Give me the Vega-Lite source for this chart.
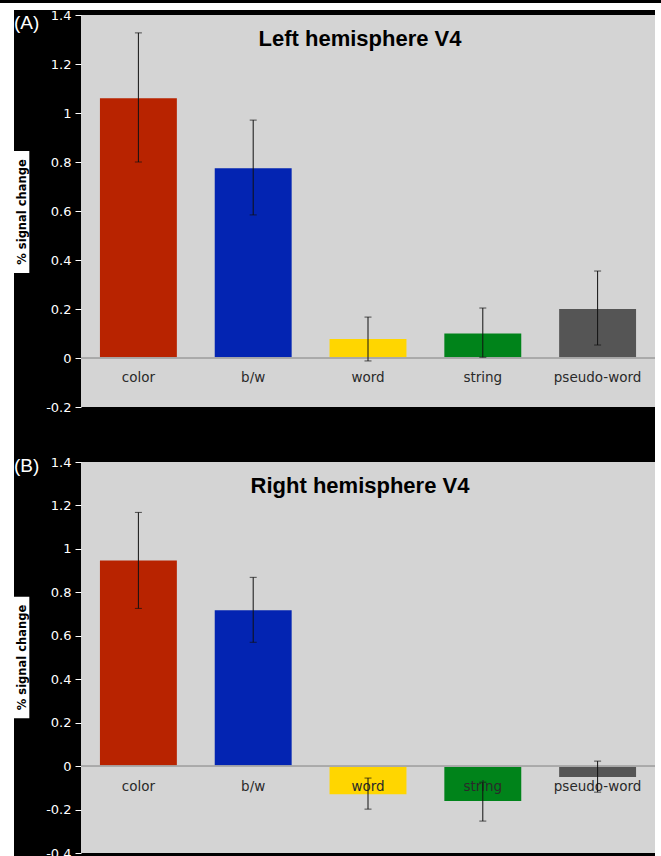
{
  "$schema": "https://vega.github.io/schema/vega-lite/v6.json",
  "background": "black",
  "padding": 0,
  "config": {"view": {"stroke": null}},
  "datasets": {
    "A": [
      {"cond": "color", "value": 1.06, "lo": 0.80, "hi": 1.327},
      {"cond": "b/w", "value": 0.775, "lo": 0.584, "hi": 0.971},
      {"cond": "word", "value": 0.078, "lo": -0.012, "hi": 0.167},
      {"cond": "string", "value": 0.10, "lo": 0.003, "hi": 0.204},
      {"cond": "pseudo-word", "value": 0.20, "lo": 0.053, "hi": 0.355}
    ],
    "B": [
      {"cond": "color", "value": 0.947, "lo": 0.726, "hi": 1.168},
      {"cond": "b/w", "value": 0.717, "lo": 0.570, "hi": 0.869},
      {"cond": "word", "value": -0.129, "lo": -0.198, "hi": -0.055},
      {"cond": "string", "value": -0.161, "lo": -0.253, "hi": -0.074},
      {"cond": "pseudo-word", "value": -0.05, "lo": -0.12, "hi": 0.023}
    ],
    "LA": [{"lab": "% signal change", "panel": "(A)", "lo": 0.347, "hi": 0.845, "mid": 0.596, "top": 1.4}],
    "LB": [{"lab": "% signal change", "panel": "(B)", "lo": 0.22, "hi": 0.78, "mid": 0.50, "top": 1.4}],
    "blank": [{}]
  },
  "columns": 4,
  "align": "each",
  "bounds": "flush",
  "spacing": 0,
  "concat": [
    {"width": 14, "height": 7, "view": {"fill": "white"}, "data": {"name": "blank"}, "mark": {"type": "text", "text": ""}, "encoding": {}},
    {"width": 67, "height": 7, "view": {"fill": "white"}, "data": {"name": "blank"}, "mark": {"type": "text", "text": ""}, "encoding": {}},
    {"width": 574, "height": 7, "view": {"fill": "white"}, "data": {"name": "blank"}, "mark": {"type": "text", "text": ""}, "encoding": {}},
    {"width": 6, "height": 7, "view": {"fill": "white"}, "data": {"name": "blank"}, "mark": {"type": "text", "text": ""}, "encoding": {}},

    {"width": 14, "height": 5, "view": {"fill": "white"}, "data": {"name": "blank"}, "mark": {"type": "text", "text": ""}, "encoding": {}},
    {"width": 67, "height": 5, "data": {"name": "blank"}, "mark": {"type": "text", "text": ""}, "encoding": {}},
    {"width": 574, "height": 5, "data": {"name": "blank"}, "mark": {"type": "text", "text": ""}, "encoding": {}},
    {"width": 6, "height": 5, "view": {"fill": "white"}, "data": {"name": "blank"}, "mark": {"type": "text", "text": ""}, "encoding": {}},

    {"width": 14, "height": 392, "view": {"fill": "white"}, "data": {"name": "blank"}, "mark": {"type": "text", "text": ""}, "encoding": {}},
    {
      "width": 67, "height": 392,
      "data": {"name": "LA"},
      "layer": [
        {"mark": {"type": "rect", "color": "white"},
         "encoding": {
           "x": {"datum": 0, "type": "quantitative", "scale": {"domain": [0, 67]}, "axis": null},
           "x2": {"datum": 16},
           "y": {"field": "lo", "type": "quantitative", "scale": {"domain": [-0.2, 1.4], "nice": false}, "axis": null},
           "y2": {"field": "hi"}}},
        {"mark": {"type": "text", "angle": 270, "fontWeight": "bold", "fontSize": 11.5, "font": "DejaVu Sans", "color": "black", "baseline": "middle", "align": "center", "dy": 1},
         "encoding": {
           "x": {"datum": 8, "type": "quantitative"},
           "y": {"field": "mid", "type": "quantitative"},
           "text": {"field": "lab"}}},
        {"mark": {"type": "text", "align": "left", "baseline": "middle", "dy": 8, "fontSize": 19, "color": "white", "font": "Liberation Sans"},
         "encoding": {
           "x": {"datum": 0, "type": "quantitative"},
           "y": {"field": "top", "type": "quantitative"},
           "text": {"field": "panel"}}}
      ]
    },
    {
      "width": 574, "height": 392,
      "view": {"fill": "#d4d4d4"},
      "data": {"name": "A"},
      "title": {"text": "Left hemisphere V4", "fontSize": 22, "fontWeight": "bold", "font": "Liberation Sans", "color": "black", "offset": -42, "dx": -8, "frame": "group"},
      "layer": [
        {"mark": {"type": "bar"},
         "encoding": {
           "x": {"field": "cond", "type": "nominal", "sort": null, "scale": {"paddingInner": 0.33, "paddingOuter": 0.165}, "axis": null},
           "y": {"field": "value", "type": "quantitative", "title": null,
                 "scale": {"domain": [-0.2, 1.4], "nice": false},
                 "axis": {"values": [-0.2, 0, 0.2, 0.4, 0.6, 0.8, 1, 1.2, 1.4], "labelExpr": "replace(format(datum.value, '.1~f'), '\u2212', '-')", "labelColor": "white", "tickColor": "white", "domain": false, "grid": false, "labelFontSize": 13, "labelFont": "DejaVu Sans", "tickSize": 6, "labelPadding": 4}},
           "color": {"field": "cond", "type": "nominal", "legend": null,
                     "scale": {"domain": ["color", "b/w", "word", "string", "pseudo-word"], "range": ["#b82300", "#0324b2", "#ffd600", "#00831a", "#555555"]}}}},
        {"mark": {"type": "rule", "color": "#a8a8a8", "strokeWidth": 1},
         "encoding": {"y": {"datum": 0, "type": "quantitative", "title": null}}},
        {"mark": {"type": "text", "baseline": "middle", "dy": 20, "fontSize": 13.5, "font": "DejaVu Sans", "color": "#2a2a2a"},
         "encoding": {
           "x": {"field": "cond", "type": "nominal", "sort": null},
           "y": {"datum": 0, "type": "quantitative", "title": null},
           "text": {"field": "cond"}}},
        {"mark": {"type": "rule", "color": "#111111", "strokeWidth": 1},
         "encoding": {
           "x": {"field": "cond", "type": "nominal", "sort": null},
           "y": {"field": "lo", "type": "quantitative", "title": null},
           "y2": {"field": "hi"}}},
        {"mark": {"type": "tick", "color": "#111111", "thickness": 1, "size": 7, "orient": "horizontal"},
         "encoding": {
           "x": {"field": "cond", "type": "nominal", "sort": null},
           "y": {"field": "lo", "type": "quantitative", "title": null}}},
        {"mark": {"type": "tick", "color": "#111111", "thickness": 1, "size": 7, "orient": "horizontal"},
         "encoding": {
           "x": {"field": "cond", "type": "nominal", "sort": null},
           "y": {"field": "hi", "type": "quantitative", "title": null}}}
      ]
    },
    {"width": 6, "height": 392, "view": {"fill": "white"}, "data": {"name": "blank"}, "mark": {"type": "text", "text": ""}, "encoding": {}},

    {"width": 14, "height": 55, "view": {"fill": "white"}, "data": {"name": "blank"}, "mark": {"type": "text", "text": ""}, "encoding": {}},
    {"width": 67, "height": 55, "data": {"name": "blank"}, "mark": {"type": "text", "text": ""}, "encoding": {}},
    {"width": 574, "height": 55, "data": {"name": "blank"}, "mark": {"type": "text", "text": ""}, "encoding": {}},
    {"width": 6, "height": 55, "view": {"fill": "white"}, "data": {"name": "blank"}, "mark": {"type": "text", "text": ""}, "encoding": {}},

    {"width": 14, "height": 391, "view": {"fill": "white"}, "data": {"name": "blank"}, "mark": {"type": "text", "text": ""}, "encoding": {}},
    {
      "width": 67, "height": 391,
      "data": {"name": "LB"},
      "layer": [
        {"mark": {"type": "rect", "color": "white"},
         "encoding": {
           "x": {"datum": 0, "type": "quantitative", "scale": {"domain": [0, 67]}, "axis": null},
           "x2": {"datum": 16},
           "y": {"field": "lo", "type": "quantitative", "scale": {"domain": [-0.4, 1.4], "nice": false}, "axis": null},
           "y2": {"field": "hi"}}},
        {"mark": {"type": "text", "angle": 270, "fontWeight": "bold", "fontSize": 11.5, "font": "DejaVu Sans", "color": "black", "baseline": "middle", "align": "center", "dy": 1},
         "encoding": {
           "x": {"datum": 8, "type": "quantitative"},
           "y": {"field": "mid", "type": "quantitative"},
           "text": {"field": "lab"}}},
        {"mark": {"type": "text", "align": "left", "baseline": "middle", "dy": 4, "fontSize": 19, "color": "white", "font": "Liberation Sans"},
         "encoding": {
           "x": {"datum": 0, "type": "quantitative"},
           "y": {"field": "top", "type": "quantitative"},
           "text": {"field": "panel"}}}
      ]
    },
    {
      "width": 574, "height": 391,
      "view": {"fill": "#d4d4d4"},
      "data": {"name": "B"},
      "title": {"text": "Right hemisphere V4", "fontSize": 22, "fontWeight": "bold", "font": "Liberation Sans", "color": "black", "offset": -42, "dx": -8, "frame": "group"},
      "layer": [
        {"mark": {"type": "bar"},
         "encoding": {
           "x": {"field": "cond", "type": "nominal", "sort": null, "scale": {"paddingInner": 0.33, "paddingOuter": 0.165}, "axis": null},
           "y": {"field": "value", "type": "quantitative", "title": null,
                 "scale": {"domain": [-0.4, 1.4], "nice": false},
                 "axis": {"values": [-0.4, -0.2, 0, 0.2, 0.4, 0.6, 0.8, 1, 1.2, 1.4], "labelExpr": "replace(format(datum.value, '.1~f'), '\u2212', '-')", "labelColor": "white", "tickColor": "white", "domain": false, "grid": false, "labelFontSize": 13, "labelFont": "DejaVu Sans", "tickSize": 6, "labelPadding": 4}},
           "color": {"field": "cond", "type": "nominal", "legend": null,
                     "scale": {"domain": ["color", "b/w", "word", "string", "pseudo-word"], "range": ["#b82300", "#0324b2", "#ffd600", "#00831a", "#555555"]}}}},
        {"mark": {"type": "rule", "color": "#a8a8a8", "strokeWidth": 1},
         "encoding": {"y": {"datum": 0, "type": "quantitative", "title": null}}},
        {"mark": {"type": "text", "baseline": "middle", "dy": 21, "fontSize": 13.5, "font": "DejaVu Sans", "color": "#2a2a2a"},
         "encoding": {
           "x": {"field": "cond", "type": "nominal", "sort": null},
           "y": {"datum": 0, "type": "quantitative", "title": null},
           "text": {"field": "cond"}}},
        {"mark": {"type": "rule", "color": "#111111", "strokeWidth": 1},
         "encoding": {
           "x": {"field": "cond", "type": "nominal", "sort": null},
           "y": {"field": "lo", "type": "quantitative", "title": null},
           "y2": {"field": "hi"}}},
        {"mark": {"type": "tick", "color": "#111111", "thickness": 1, "size": 7, "orient": "horizontal"},
         "encoding": {
           "x": {"field": "cond", "type": "nominal", "sort": null},
           "y": {"field": "lo", "type": "quantitative", "title": null}}},
        {"mark": {"type": "tick", "color": "#111111", "thickness": 1, "size": 7, "orient": "horizontal"},
         "encoding": {
           "x": {"field": "cond", "type": "nominal", "sort": null},
           "y": {"field": "hi", "type": "quantitative", "title": null}}}
      ]
    },
    {"width": 6, "height": 391, "view": {"fill": "white"}, "data": {"name": "blank"}, "mark": {"type": "text", "text": ""}, "encoding": {}},

    {"width": 14, "height": 6, "view": {"fill": "white"}, "data": {"name": "blank"}, "mark": {"type": "text", "text": ""}, "encoding": {}},
    {"width": 67, "height": 6, "data": {"name": "blank"}, "mark": {"type": "text", "text": ""}, "encoding": {}},
    {"width": 574, "height": 6, "data": {"name": "blank"}, "mark": {"type": "text", "text": ""}, "encoding": {}},
    {"width": 6, "height": 6, "view": {"fill": "white"}, "data": {"name": "blank"}, "mark": {"type": "text", "text": ""}, "encoding": {}}
  ]
}
